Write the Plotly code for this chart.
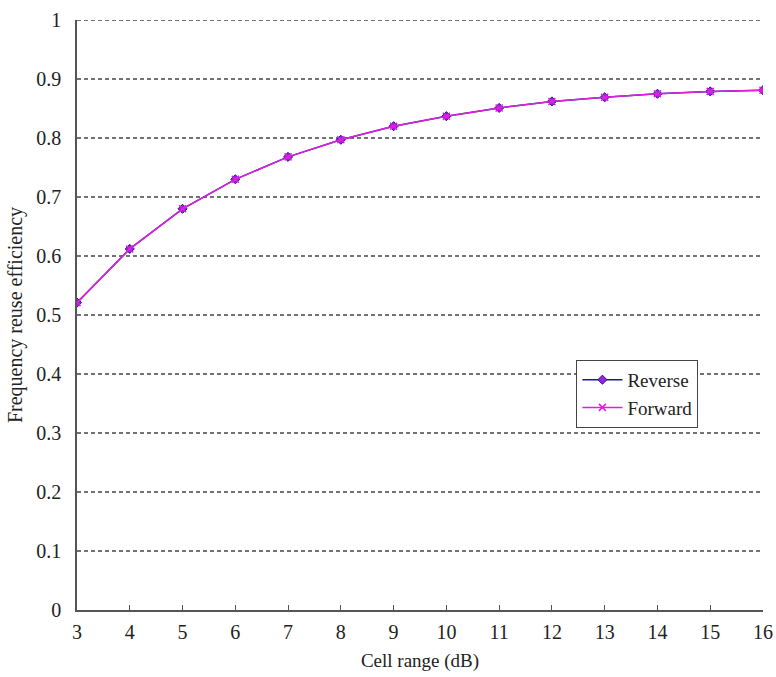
import plotly.graph_objects as go

cell_range = [3, 4, 5, 6, 7, 8, 9, 10, 11, 12, 13, 14, 15, 16]
reverse = [0.521, 0.612, 0.680, 0.730, 0.768, 0.797, 0.820, 0.837, 0.851, 0.862, 0.869, 0.875, 0.879, 0.881]
forward = [0.521, 0.612, 0.680, 0.730, 0.768, 0.797, 0.820, 0.837, 0.851, 0.862, 0.869, 0.875, 0.879, 0.881]
y_ticks = [0, 0.1, 0.2, 0.3, 0.4, 0.5, 0.6, 0.7, 0.8, 0.9, 1]
y_labels = ["0", "0.1", "0.2", "0.3", "0.4", "0.5", "0.6", "0.7", "0.8", "0.9", "1"]

font = "Liberation Serif, Times New Roman, serif"

fig = go.Figure()
fig.add_trace(go.Scatter(
    x=cell_range, y=reverse, name="Reverse", mode="lines+markers",
    line=dict(color="#1a1a80", width=1.5),
    marker=dict(symbol="diamond", size=7, color="#a020e0",
                line=dict(color="#1a1a80", width=1)),
))
fig.add_trace(go.Scatter(
    x=cell_range, y=forward, name="Forward", mode="lines+markers",
    line=dict(color="#e020e0", width=1.5),
    marker=dict(symbol="x-thin", size=7, color="#e020e0",
                line=dict(color="#e020e0", width=1.5)),
))

# dashed horizontal gridlines
for v in y_ticks[1:]:
    fig.add_shape(type="line", xref="paper", x0=0, x1=1, yref="y", y0=v, y1=v,
                  line=dict(color="#444444", width=1.3, dash="4px,3px"), layer="below")

fig.update_layout(
    width=776, height=677,
    margin=dict(l=77, r=13, t=20, b=67),
    paper_bgcolor="white", plot_bgcolor="white",
    font=dict(family=font, size=20, color="#222222"),
    showlegend=True,
    legend=dict(x=0.728, y=0.424, xanchor="left", yanchor="top",
                bordercolor="#444444", borderwidth=1, bgcolor="white",
                font=dict(family=font, size=19, color="#222222"),
                tracegroupgap=0, itemwidth=40),
    xaxis=dict(
        range=[3, 16], tickmode="array", tickvals=cell_range,
        ticks="inside", ticklen=5, tickcolor="#555555",
        showline=True, linecolor="#555555", linewidth=1.5,
        showgrid=False, zeroline=False, automargin=False,
        tickfont=dict(family=font, size=20), ticklabelstandoff=3,
        title=dict(text="Cell range (dB)", font=dict(family=font, size=19), standoff=12),
    ),
    yaxis=dict(
        range=[0, 1], tickmode="array", tickvals=y_ticks, ticktext=y_labels,
        ticks="", showline=True, linecolor="#555555", linewidth=1.5,
        showgrid=False, zeroline=False, ticklabelstandoff=10, automargin=False,
        tickfont=dict(family=font, size=20),
        title=dict(text="Frequency reuse efficiency", font=dict(family=font, size=20), standoff=8),
    ),
)

fig.write_html("out.html")
